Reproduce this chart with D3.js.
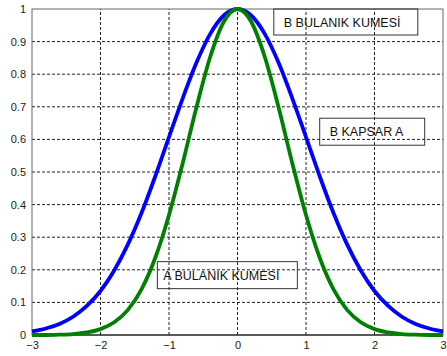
<!DOCTYPE html>
<head>
<style>
body { margin: 0; background: #fff; }
svg { font: 11px "Liberation Sans", Arial, sans-serif; }
</style>
<script src="https://d3js.org/d3.v7.min.js"></script>
</head>
<body>
<svg id="chart" width="447" height="356"></svg>
<script>

var width = 447;
var height = 356;
var margin = {top: 9, right: 4, bottom: 21, left: 32};

var xs = [-3, -2.8, -2.6, -2.4, -2.2, -2, -1.8, -1.6, -1.4, -1.2, -1, -0.8, -0.6, -0.4, -0.2, 0,
          0.2, 0.4, 0.6, 0.8, 1, 1.2, 1.4, 1.6, 1.8, 2, 2.2, 2.4, 2.6, 2.8, 3];

// B bulanik kumesi (blue, wide)
var blueY = [0.011, 0.02, 0.034, 0.056, 0.089, 0.135, 0.198, 0.278, 0.375, 0.487, 0.607, 0.726, 0.835, 0.923, 0.98, 1,
             0.98, 0.923, 0.835, 0.726, 0.607, 0.487, 0.375, 0.278, 0.198, 0.135, 0.089, 0.056, 0.034, 0.02, 0.011];

// A bulanik kumesi (green, narrow)
var greenY = [0, 0, 0.001, 0.003, 0.008, 0.018, 0.039, 0.077, 0.141, 0.237, 0.368, 0.527, 0.698, 0.852, 0.961, 1,
              0.961, 0.852, 0.698, 0.527, 0.368, 0.237, 0.141, 0.077, 0.039, 0.018, 0.008, 0.003, 0.001, 0, 0];

var xTicks = [-3, -2, -1, 0, 1, 2, 3];
var yTicks = [0, 0.1, 0.2, 0.3, 0.4, 0.5, 0.6, 0.7, 0.8, 0.9, 1];

var labels = [
    {text: "B BULANIK KUMESİ", x: 0.53, y: 1.0, w: 144, h: 26, pad: 10},
    {text: "B KAPSAR A", x: 1.2, y: 0.665, w: 105, h: 27, pad: 10},
    {text: "A BULANIK KUMESİ", x: -1.17, y: 0.225, w: 140, h: 27, pad: 6}
];

var svg = d3.select("#chart");

var x = d3.scaleLinear().domain([-3, 3]).range([margin.left, width - margin.right]);
var y = d3.scaleLinear().domain([0, 1]).range([height - margin.bottom, margin.top]);

// dashed grid
svg.append("g").selectAll("line")
    .data(xTicks.slice(1, -1))
    .enter().append("line")
    .attr("x1", function(d) { return x(d); })
    .attr("x2", function(d) { return x(d); })
    .attr("y1", y(0))
    .attr("y2", y(1))
    .style("stroke", "#222")
    .style("stroke-dasharray", "3,2");

svg.append("g").selectAll("line")
    .data(yTicks.slice(1, -1))
    .enter().append("line")
    .attr("x1", x(-3))
    .attr("x2", x(3))
    .attr("y1", function(d) { return y(d); })
    .attr("y2", function(d) { return y(d); })
    .style("stroke", "#222")
    .style("stroke-dasharray", "3,2");

// axes
var xAxis = svg.append("g")
    .attr("transform", "translate(0," + y(0) + ")")
    .call(d3.axisBottom(x).tickValues(xTicks).tickSize(0).tickPadding(6).tickFormat(d3.format("d")));
var yAxis = svg.append("g")
    .attr("transform", "translate(" + x(-3) + ",0)")
    .call(d3.axisLeft(y).tickValues(yTicks).tickSize(0).tickPadding(6).tickFormat(function(d) { return d; }));
[xAxis, yAxis].forEach(function(a) {
    a.select(".domain").remove();
    a.selectAll("text").style("font-size", "11px").style("fill", "#222");
});

// box
svg.append("rect")
    .attr("x", x(-3))
    .attr("y", y(1))
    .attr("width", x(3) - x(-3))
    .attr("height", y(0) - y(1))
    .style("fill", "none")
    .style("stroke", "#666")
    .style("stroke-width", 1);
svg.append("line")
    .attr("x1", x(-3)).attr("x2", x(3))
    .attr("y1", y(0)).attr("y2", y(0))
    .style("stroke", "#000");

var line = d3.line()
    .x(function(d) { return x(d[0]); })
    .y(function(d) { return y(d[1]); })
    .curve(d3.curveMonotoneX);

svg.append("path")
    .datum(d3.zip(xs, blueY))
    .attr("d", line)
    .style("fill", "none")
    .style("stroke", "#0000ff")
    .style("stroke-width", 3.8);

svg.append("path")
    .datum(d3.zip(xs, greenY))
    .attr("d", line)
    .style("fill", "none")
    .style("stroke", "#008000")
    .style("stroke-width", 3.8);

// text boxes (transparent, grid shows through)
var lab = svg.append("g").selectAll("g")
    .data(labels)
    .enter().append("g")
    .attr("transform", function(d) { return "translate(" + x(d.x) + "," + y(d.y) + ")"; });
lab.append("rect")
    .attr("width", function(d) { return d.w; })
    .attr("height", function(d) { return d.h; })
    .style("fill", "none")
    .style("stroke", "#333");
lab.append("text")
    .attr("x", function(d) { return d.pad; })
    .attr("y", function(d) { return d.h / 2 + 4.5; })
    .style("font-size", "12.5px")
    .style("fill", "#111")
    .text(function(d) { return d.text; });

</script>
</body>
</html>
